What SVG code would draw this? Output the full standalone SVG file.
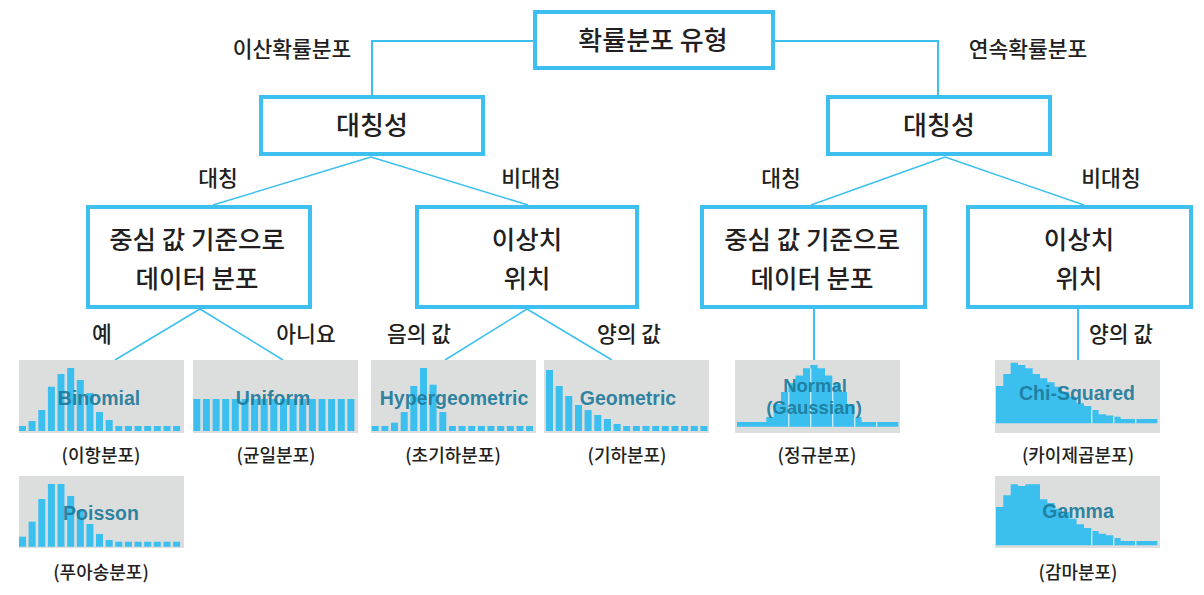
<svg xmlns="http://www.w3.org/2000/svg" width="1204" height="595" viewBox="0 0 1204 595">
<style>
.box{fill:#ffffff;stroke:#3dbfef;stroke-width:4}
.ln{fill:none;stroke:#3dbfef;stroke-width:2}
.dl{fill:none;stroke:#3dbfef;stroke-width:1.5}
.kt{font-family:"Noto Sans CJK KR","Noto Sans",sans-serif;font-weight:500;fill:#231f20;text-anchor:middle}
.big{font-size:26px}
.mid{font-size:25.5px}
.lab{font-size:21.5px}
.cap{font-size:18px}
.bg{fill:#dcdddd}
.bar{fill:#3bbfee}
.sep{stroke:#ffffff;stroke-width:1}
.hl{font-family:"Liberation Sans",Arial,Helvetica,sans-serif;font-weight:bold;font-size:19.5px;fill:#1d7a9a;fill-opacity:0.92;text-anchor:middle}
.hs{font-size:18.5px}
</style>
<rect width="1204" height="595" fill="#ffffff"/>

<g id="connectors">
<polyline class="ln" points="533,41 372,41 372,95"/>
<polyline class="ln" points="773,41 938,41 938,95"/>
<line class="dl" x1="371" y1="157" x2="213" y2="205"/>
<line class="dl" x1="371" y1="157" x2="528" y2="205"/>
<line class="dl" x1="945" y1="157" x2="811" y2="205"/>
<line class="dl" x1="945" y1="157" x2="1084" y2="205"/>
<line class="dl" x1="200" y1="309" x2="115" y2="360"/>
<line class="dl" x1="200" y1="309" x2="283" y2="360"/>
<line class="dl" x1="527" y1="309" x2="445" y2="360"/>
<line class="dl" x1="527" y1="309" x2="612" y2="360"/>
<line class="ln" x1="814" y1="309" x2="814" y2="360"/>
<line class="ln" x1="1078" y1="309" x2="1078" y2="360"/>
</g>

<g id="edge-labels">
<text class="kt lab" x="292" y="57">이산확률분포</text>
<text class="kt lab" x="1028" y="57">연속확률분포</text>
<text class="kt lab" x="218" y="186">대칭</text>
<text class="kt lab" x="531" y="186">비대칭</text>
<text class="kt lab" x="781" y="186">대칭</text>
<text class="kt lab" x="1111" y="186">비대칭</text>
<text class="kt lab" x="102" y="342">예</text>
<text class="kt lab" x="306" y="342">아니요</text>
<text class="kt lab" x="419" y="342">음의 값</text>
<text class="kt lab" x="629" y="342">양의 값</text>
<text class="kt lab" x="1121" y="342">양의 값</text>
</g>

<g id="root">
<rect class="box" x="535" y="12" width="238" height="56"/>
<text class="kt big" x="653" y="50">확률분포 유형</text>
</g>

<g id="sym-left">
<rect class="box" x="261" y="97" width="222" height="57"/>
<text class="kt big" x="372" y="135">대칭성</text>
</g>

<g id="sym-right">
<rect class="box" x="828" y="97" width="222" height="57"/>
<text class="kt big" x="939" y="135">대칭성</text>
</g>

<g id="center-left">
<rect class="box" x="88" y="207" width="222" height="100"/>
<text class="kt mid" x="197" y="249">중심 값 기준으로</text>
<text class="kt mid" x="197" y="288">데이터 분포</text>
</g>

<g id="outlier-left">
<rect class="box" x="417" y="207" width="220" height="100"/>
<text class="kt mid" x="527" y="249">이상치</text>
<text class="kt mid" x="527" y="288">위치</text>
</g>

<g id="center-right">
<rect class="box" x="702" y="207" width="223" height="100"/>
<text class="kt mid" x="812" y="249">중심 값 기준으로</text>
<text class="kt mid" x="812" y="288">데이터 분포</text>
</g>

<g id="outlier-right">
<rect class="box" x="968" y="207" width="223" height="100"/>
<text class="kt mid" x="1079" y="249">이상치</text>
<text class="kt mid" x="1079" y="288">위치</text>
</g>

<g id="binomial">
<rect class="bg" x="19" y="360" width="165" height="73"/>
<g class="bar">
<rect x="19.0" y="426" width="7" height="5"/>
<rect x="28.6" y="421" width="7" height="10"/>
<rect x="38.3" y="410" width="7" height="21"/>
<rect x="47.9" y="386.7" width="7" height="44.3"/>
<rect x="57.5" y="374" width="7" height="57"/>
<rect x="67.2" y="368" width="7" height="63"/>
<rect x="76.8" y="380" width="7" height="51"/>
<rect x="86.4" y="393" width="7" height="38"/>
<rect x="96.0" y="412" width="7" height="19"/>
<rect x="105.7" y="420" width="7" height="11"/>
<rect x="115.3" y="426" width="7" height="5"/>
<rect x="124.9" y="426" width="7" height="5"/>
<rect x="134.6" y="426" width="7" height="5"/>
<rect x="144.2" y="426" width="7" height="5"/>
<rect x="153.8" y="426" width="7" height="5"/>
<rect x="163.5" y="426" width="7" height="5"/>
<rect x="173.1" y="426" width="7" height="5"/>
</g>
<text class="hl" x="99" y="405">Binomial</text>
<text class="kt cap" x="101" y="462">(이항분포)</text>
</g>

<g id="uniform">
<rect class="bg" x="193" y="360" width="165" height="73"/>
<g class="bar">
<rect x="193.3" y="399" width="7" height="32"/>
<rect x="202.9" y="399" width="7" height="32"/>
<rect x="212.6" y="399" width="7" height="32"/>
<rect x="222.2" y="399" width="7" height="32"/>
<rect x="231.8" y="399" width="7" height="32"/>
<rect x="241.5" y="399" width="7" height="32"/>
<rect x="251.1" y="399" width="7" height="32"/>
<rect x="260.7" y="399" width="7" height="32"/>
<rect x="270.3" y="399" width="7" height="32"/>
<rect x="280.0" y="399" width="7" height="32"/>
<rect x="289.6" y="399" width="7" height="32"/>
<rect x="299.2" y="399" width="7" height="32"/>
<rect x="308.9" y="399" width="7" height="32"/>
<rect x="318.5" y="399" width="7" height="32"/>
<rect x="328.1" y="399" width="7" height="32"/>
<rect x="337.8" y="399" width="7" height="32"/>
<rect x="347.4" y="399" width="7" height="32"/>
</g>
<text class="hl" x="273" y="405">Uniform</text>
<text class="kt cap" x="276" y="462">(균일분포)</text>
</g>

<g id="hypergeometric">
<rect class="bg" x="371" y="360" width="165" height="73"/>
<g class="bar">
<rect x="371.7" y="426" width="7" height="5"/>
<rect x="381.4" y="426" width="7" height="5"/>
<rect x="391.0" y="422.7" width="7" height="8.3"/>
<rect x="400.7" y="412" width="7" height="19"/>
<rect x="410.3" y="386" width="7" height="45"/>
<rect x="420.0" y="368" width="7" height="63"/>
<rect x="429.6" y="384.7" width="7" height="46.3"/>
<rect x="439.3" y="412" width="7" height="19"/>
<rect x="448.9" y="426" width="7" height="5"/>
<rect x="458.6" y="426" width="7" height="5"/>
<rect x="468.2" y="426" width="7" height="5"/>
<rect x="477.9" y="426" width="7" height="5"/>
<rect x="487.5" y="426" width="7" height="5"/>
<rect x="497.2" y="426" width="7" height="5"/>
<rect x="506.8" y="426" width="7" height="5"/>
<rect x="516.5" y="426" width="7" height="5"/>
<rect x="526.1" y="426" width="7" height="5"/>
</g>
<text class="hl" x="454" y="405">Hypergeometric</text>
<text class="kt cap" x="453" y="462">(초기하분포)</text>
</g>

<g id="geometric">
<rect class="bg" x="544" y="360" width="165" height="73"/>
<g class="bar">
<rect x="546.0" y="370" width="7" height="61"/>
<rect x="555.7" y="386" width="7" height="45"/>
<rect x="565.3" y="396" width="7" height="35"/>
<rect x="575.0" y="405" width="7" height="26"/>
<rect x="584.6" y="410" width="7" height="21"/>
<rect x="594.3" y="415" width="7" height="16"/>
<rect x="603.9" y="419" width="7" height="12"/>
<rect x="613.6" y="424" width="7" height="7"/>
<rect x="623.2" y="426" width="7" height="5"/>
<rect x="632.9" y="426" width="7" height="5"/>
<rect x="642.5" y="426" width="7" height="5"/>
<rect x="652.2" y="426" width="7" height="5"/>
<rect x="661.8" y="426" width="7" height="5"/>
<rect x="671.5" y="426" width="7" height="5"/>
<rect x="681.1" y="426" width="7" height="5"/>
<rect x="690.8" y="426" width="7" height="5"/>
<rect x="700.4" y="426" width="7" height="5"/>
</g>
<text class="hl" x="628" y="405">Geometric</text>
<text class="kt cap" x="627" y="462">(기하분포)</text>
</g>

<g id="normal">
<rect class="bg" x="735" y="360" width="165" height="73"/>
<path class="bar" d="M737,426.7 V422 H766.3 V417 H773.7 V404 H781 V392 H788.3 V383.3 H795.6 V375.5 H803 V368.3 H810.3 V365 H817.6 V368.3 H825 V375.5 H832.3 V383.3 H839.6 V392 H847 V404 H854.3 V417 H861.6 V422 H898.3 V426.7 Z"/>
<line class="sep" x1="788.8" y1="392" x2="788.8" y2="426.7"/>
<line class="sep" x1="810.8" y1="368.3" x2="810.8" y2="426.7"/>
<line class="sep" x1="832.8" y1="383.3" x2="832.8" y2="426.7"/>
<line class="sep" x1="854.8" y1="417" x2="854.8" y2="426.7"/>
<line class="sep" x1="876.8" y1="422" x2="876.8" y2="426.7"/>
<text class="hl hs" x="815" y="392">Normal</text>
<text class="hl hs" x="814" y="413.5">(Gaussian)</text>
<text class="kt cap" x="817" y="462">(정규분포)</text>
</g>

<g id="chi-squared">
<rect class="bg" x="995" y="360" width="165" height="73"/>
<path class="bar" d="M996,423.3 V386 H1003.3 V374 H1010.7 V362.7 H1018 V365 H1025.3 V368.3 H1032.7 V374 H1040 V378.3 H1047.3 V382.3 H1054.6 V386.7 H1062 V391.7 H1069.3 V396.7 H1076.6 V403.3 H1084 V406 H1091.3 V410 H1098.6 V414.3 H1106 V415.5 H1113.3 V416.7 H1120.6 V419 H1157.3 V423.3 Z"/>
<line class="sep" x1="1091.8" y1="410" x2="1091.8" y2="423.3"/>
<line class="sep" x1="1113.8" y1="416.7" x2="1113.8" y2="423.3"/>
<line class="sep" x1="1135.8" y1="419" x2="1135.8" y2="423.3"/>
<text class="hl" x="1077" y="400">Chi-Squared</text>
<text class="kt cap" x="1078" y="462">(카이제곱분포)</text>
</g>

<g id="poisson">
<rect class="bg" x="19" y="476" width="165" height="72"/>
<g class="bar">
<rect x="19.0" y="536.7" width="7" height="10"/>
<rect x="28.6" y="521.7" width="7" height="25"/>
<rect x="38.3" y="499" width="7" height="47.7"/>
<rect x="47.9" y="484" width="7" height="62.7"/>
<rect x="57.5" y="484" width="7" height="62.7"/>
<rect x="67.2" y="496" width="7" height="50.7"/>
<rect x="76.8" y="510" width="7" height="36.7"/>
<rect x="86.4" y="524" width="7" height="22.7"/>
<rect x="96.0" y="534" width="7" height="12.7"/>
<rect x="105.7" y="540" width="7" height="6.7"/>
<rect x="115.3" y="541.7" width="7" height="5"/>
<rect x="124.9" y="541.7" width="7" height="5"/>
<rect x="134.6" y="541.7" width="7" height="5"/>
<rect x="144.2" y="541.7" width="7" height="5"/>
<rect x="153.8" y="541.7" width="7" height="5"/>
<rect x="163.5" y="541.7" width="7" height="5"/>
<rect x="173.1" y="541.7" width="7" height="5"/>
</g>
<text class="hl" x="101" y="520">Poisson</text>
<text class="kt cap" x="101" y="579">(푸아송분포)</text>
</g>

<g id="gamma">
<rect class="bg" x="995" y="476" width="165" height="72"/>
<path class="bar" d="M996,545.3 V507 H1003.3 V495.3 H1010.7 V484.3 H1018 V486 H1025.3 V484.3 H1040 V499.3 H1047.3 V503 H1054.6 V508.7 H1062 V512 H1069.3 V518.7 H1076.6 V524.3 H1084 V528 H1091.3 V531 H1098.6 V533.7 H1106 V535.3 H1113.3 V538 H1120.6 V541 H1157.3 V545.3 Z"/>
<line class="sep" x1="1091.8" y1="531" x2="1091.8" y2="545.3"/>
<line class="sep" x1="1113.8" y1="538" x2="1113.8" y2="545.3"/>
<line class="sep" x1="1135.8" y1="541" x2="1135.8" y2="545.3"/>
<text class="hl" x="1078" y="518">Gamma</text>
<text class="kt cap" x="1078" y="579">(감마분포)</text>
</g>
</svg>
